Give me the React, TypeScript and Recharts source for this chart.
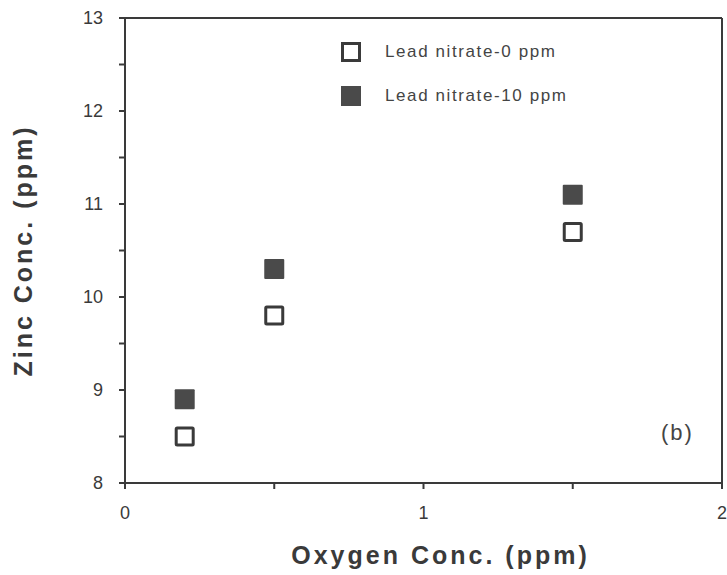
import { ScatterChart, Scatter, XAxis, YAxis, ReferenceLine, Label } from "recharts";

// x = oxygen concentration (ppm), y = zinc concentration (ppm)
const OXYGEN = [0.2, 0.5, 1.5];
const ZINC_LEAD_0 = [8.5, 9.8, 10.7];
const ZINC_LEAD_10 = [8.9, 10.3, 11.1];

const X_TICKS = [0, 0.5, 1, 1.5, 2];
const Y_TICKS = [8, 8.5, 9, 9.5, 10, 10.5, 11, 11.5, 12, 12.5, 13];

const SERIES_LABELS = ["Lead nitrate-0 ppm", "Lead nitrate-10 ppm"];

const INK = "#3a3a3a";
const FONT = "'Liberation Sans', Arial, Helvetica, sans-serif";

const lead0 = OXYGEN.map((x, i) => ({ x, y: ZINC_LEAD_0[i] }));
const lead10 = OXYGEN.map((x, i) => ({ x, y: ZINC_LEAD_10[i] }));

const SIZE = 20;

// eslint-disable-next-line @typescript-eslint/no-explicit-any
function OpenSquare({ cx, cy }: any) {
  return (
    <rect x={cx - SIZE / 2 + 1.5} y={cy - SIZE / 2 + 1.5} width={SIZE - 3} height={SIZE - 3}
      fill="#fff" stroke={INK} strokeWidth={3} rx={1} />
  );
}

// eslint-disable-next-line @typescript-eslint/no-explicit-any
function FilledSquare({ cx, cy }: any) {
  return <rect x={cx - SIZE / 2} y={cy - SIZE / 2} width={SIZE} height={SIZE} fill="#4a4a4a" rx={1} />;
}

// only whole numbers get a label, the halves are bare minor ticks
// eslint-disable-next-line @typescript-eslint/no-explicit-any
function IntTick({ x, y, payload, textAnchor }: any) {
  if (!Number.isInteger(payload.value)) return null;
  return (
    <text x={x} y={y} textAnchor={textAnchor} dominantBaseline="central"
      fontSize={18} fill={INK} fontFamily={FONT}>
      {payload.value}
    </text>
  );
}

export default function App() {
  return (
    <div style={{ position: "absolute", left: 0, top: 0, width: 727, height: 575, background: "#fff" }}>
      <ScatterChart width={727} height={575} margin={{ top: 18, right: 5, bottom: 62, left: 65 }}>
        <XAxis type="number" dataKey="x" domain={[0, 2]} ticks={X_TICKS} allowDataOverflow
          stroke={INK} strokeWidth={2} tickSize={6} tickMargin={24} height={30} tick={<IntTick />}>
          <Label value="Oxygen  Conc.  (ppm)" position="bottom" offset={33} dx={17}
            style={{ fontSize: 25, fontWeight: 700, fill: INK, fontFamily: FONT, letterSpacing: 3 }} />
        </XAxis>
        <YAxis type="number" dataKey="y" domain={[8, 13]} ticks={Y_TICKS} allowDataOverflow
          stroke={INK} strokeWidth={2} tickSize={6} tickMargin={16} width={60} tick={<IntTick />}>
          <Label value="Zinc  Conc.  (ppm)" angle={-90} position="left" offset={42}
            style={{ fontSize: 25, fontWeight: 700, fill: INK, fontFamily: FONT, letterSpacing: 3, textAnchor: "middle" }} />
        </YAxis>
        <ReferenceLine y={13} stroke={INK} strokeWidth={2} />
        <ReferenceLine x={2} stroke={INK} strokeWidth={2} />
        <Scatter name={SERIES_LABELS[0]} data={lead0} shape={<OpenSquare />} isAnimationActive={false} />
        <Scatter name={SERIES_LABELS[1]} data={lead10} shape={<FilledSquare />} isAnimationActive={false} />
      </ScatterChart>

      {/* legend, top middle of the plot */}
      <div style={{ position: "absolute", left: 341, top: 30, fontFamily: FONT, fontSize: 17, color: "#444", letterSpacing: 1.6 }}>
        {SERIES_LABELS.map((label, i) => (
          <div key={label} style={{ display: "flex", alignItems: "center", height: 44 }}>
            <span style={{
              display: "inline-block", boxSizing: "border-box", width: 20, height: 20, marginRight: 24,
              border: `3px solid ${INK}`, background: i === 0 ? "#fff" : "#4a4a4a",
              borderColor: i === 0 ? INK : "#4a4a4a",
            }} />
            {label}
          </div>
        ))}
      </div>
      <div style={{ position: "absolute", left: 661, top: 420, fontFamily: FONT, fontSize: 22, color: "#444", letterSpacing: 2 }}>
        (b)
      </div>
    </div>
  );
}
